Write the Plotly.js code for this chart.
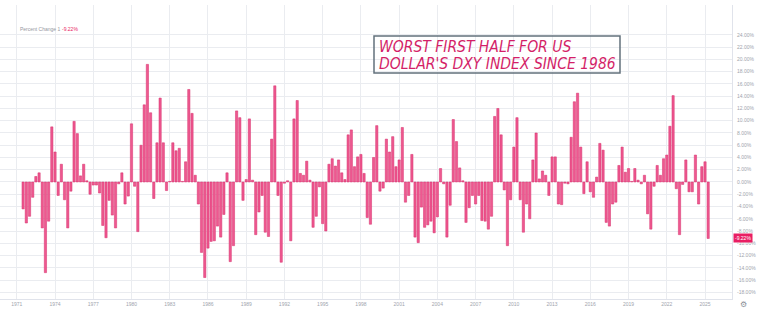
<!DOCTYPE html>
<html><head><meta charset="utf-8">
<script src="https://cdn.plot.ly/plotly-3.0.1.min.js"></script>
<style>html,body{margin:0;padding:0;background:#fff}#chart{width:766px;height:313px}</style>
</head><body><div id="chart"></div>
<script>
// Quarterly DXY percent change (rolling 6-month), first bar = 1971 Q3
const startYear = 1971, startQuarter = 3;
const pct1970s = [-4.4,-6.7,-5.6,-2.5,0.9,1.5,-7.5,-14.8,-6.4,9.0,4.9,-2.2,2.9,-2.9,-7.5,-1.5,9.9,7.9,1.0,2.9,0.2,-2.0,-0.5,-0.5,-1.8,-7.1,-9.1,-3.0,-5.4,-7.5,-0.3,1.5,-3.6,-2.3];
const pct1980s = [9.5,-0.7,-8.1,6.0,12.6,19.2,11.3,-2.7,6.4,13.7,6.4,-1.4,0.1,6.4,5.1,5.5,0.1,3.3,15.1,11.2,1.1,-3.6,-11.5,-15.6,-10.8,-9.7,-9.6,-7.2,-9.0,-5.3,1.5,-13.0,-10.4,11.6,10.5,-3.0,0.4,10.3,0.3,-8.6];
const pct1990s = [-4.9,-2.2,-8.2,-8.9,7.0,15.7,-2.2,-13.1,-0.2,0.2,-9.6,10.3,13.3,1.4,1.1,3.4,0.3,-7.4,-5.6,-0.8,-6.8,-8.0,2.9,3.8,2.6,3.6,1.5,0.4,7.7,8.5,2.5,4.1,4.5,1.4,-5.8,-6.9,4.0,9.2,-1.5,-1.0];
const pct2000s = [7.0,4.9,7.4,2.5,3.6,8.9,-3.3,-2.2,4.5,-9.0,-9.9,-4.1,-7.4,-7.0,-6.4,-8.3,-5.7,2.2,-0.3,-9.0,-3.8,10.2,6.6,2.3,0.2,-6.6,-4.2,-2.2,-3.6,-2.2,-6.3,-6.4,-7.7,-5.6,10.7,12.0,7.7,-1.3,-10.4,-2.9];
const pct2010s = [5.7,10.5,-2.9,-8.2,-3.6,-6.0,3.6,8.0,0.5,1.8,1.1,-2.2,4.1,4.1,-3.6,-3.7,-0.2,-0.3,7.3,13.1,14.5,5.7,-1.9,3.3,-1.6,-2.5,0.8,6.3,5.2,-6.6,-7.2,-3.6,-3.3,2.7,5.7,1.6,2.2,0.1,2.2,0.3];
const pct2020s = [-0.3,1.1,-5.2,-7.7,-0.7,2.7,1.1,3.8,4.4,9.1,14.1,-1.1,-8.6,-0.4,3.6,-1.6,-1.6,4.4,-3.6,2.5,3.3,-9.22];
const yearTicks = [1971,1974,1977,1980,1983,1986,1989,1992,1995,1998,2001,2004,2007,2010,2013,2016,2019,2022,2025];
const yTicks = [-18,-16,-14,-12,-10,-8,-6,-4,-2,0,2,4,6,8,10,12,14,16,18,20,22,24];
const titleLines = ["WORST FIRST HALF FOR US", "DOLLAR'S DXY INDEX SINCE 1986"];
const legendName = "Percent Change 1";
const lastValueText = "-9.22%";

const values = [].concat(pct1970s, pct1980s, pct1990s, pct2000s, pct2010s, pct2020s);
const dates = values.map((v, i) => {
  const q = (startQuarter - 1) + i;
  const y = startYear + Math.floor(q / 4);
  const m = (q % 4) * 3 + 1;
  return y + '-' + String(m).padStart(2, '0') + '-01';
});

const W = 732, T = 5, B = 299, H = B - T;
const px = x => x / W;
const py = y => (B - y) / H;

const grey = '#a0a4ad';
const tickFont = {family: 'Liberation Sans, Arial, sans-serif', size: 5, color: grey};
const titleFont = {family: 'DejaVu Sans Condensed, DejaVu Sans, sans-serif', size: 15.5, style: 'italic', color: '#d41f68'};

const trace = {
  type: 'bar', x: dates, y: values,
  marker: {color: '#ee5890', line: {color: '#d62f6b', width: 0.5}},
  hoverinfo: 'skip'
};

const layout = {
  width: 766, height: 313,
  margin: {l: 0, r: 34, t: T, b: 313 - B},
  paper_bgcolor: '#ffffff', plot_bgcolor: '#ffffff',
  showlegend: false, bargap: 0.28,
  xaxis: {
    type: 'date', range: ['1969-09-07', '2027-02-13'],
    tickmode: 'array',
    tickvals: yearTicks.map(y => y + '-01-01'),
    ticktext: yearTicks.map(String),
    showgrid: true, gridcolor: '#eaecf0', gridwidth: 1,
    showline: true, linecolor: '#e0e3eb', linewidth: 1,
    zeroline: false, ticks: '', tickfont: tickFont, fixedrange: true
  },
  yaxis: {
    side: 'right', range: [-19.1, 28.89],
    tickmode: 'array', tickvals: yTicks,
    ticktext: yTicks.map(v => v.toFixed(2) + '%'),
    showgrid: true, gridcolor: '#eaecf0', gridwidth: 1,
    showline: true, linecolor: '#e0e3eb', linewidth: 1,
    zeroline: false, ticks: '', ticklabelstandoff: 3,
    tickfont: tickFont, fixedrange: true
  },
  shapes: [{
    type: 'rect', xref: 'paper', yref: 'paper',
    x0: px(374), x1: px(620), y0: py(73), y1: py(36),
    line: {color: '#63717c', width: 1.5}, fillcolor: 'rgba(0,0,0,0)', layer: 'above'
  }],
  annotations: [
    {xref: 'paper', yref: 'paper', x: px(18), y: py(29), xanchor: 'left', yanchor: 'middle',
     text: legendName, showarrow: false, font: {family: 'Liberation Sans, Arial, sans-serif', size: 5, color: '#9598a1'}},
    {xref: 'paper', yref: 'paper', x: px(60), y: py(29), xanchor: 'left', yanchor: 'middle',
     text: lastValueText, showarrow: false, font: {family: 'Liberation Sans, Arial, sans-serif', size: 5, color: '#e91e63'}},
    {xref: 'paper', yref: 'paper', x: px(377), y: py(46.5), xanchor: 'left', yanchor: 'middle',
     text: titleLines[0], showarrow: false, font: titleFont},
    {xref: 'paper', yref: 'paper', x: px(377), y: py(64), xanchor: 'left', yanchor: 'middle',
     text: titleLines[1], showarrow: false, font: titleFont},
    {xref: 'paper', yref: 'y', x: 1.001, y: values[values.length - 1], xanchor: 'left', yanchor: 'middle',
     text: lastValueText, showarrow: false, bgcolor: '#e91e63', borderpad: 1,
     font: {family: 'Liberation Sans, Arial, sans-serif', size: 5, color: '#ffffff'}},
    {xref: 'paper', yref: 'paper', x: px(743), y: py(304), xanchor: 'center', yanchor: 'middle',
     text: '⚙', showarrow: false, font: {family: 'DejaVu Sans', size: 8, color: '#8a8e98'}}
  ]
};

Plotly.newPlot('chart', [trace], layout, {staticPlot: true, displayModeBar: false});
</script>
</body></html>
